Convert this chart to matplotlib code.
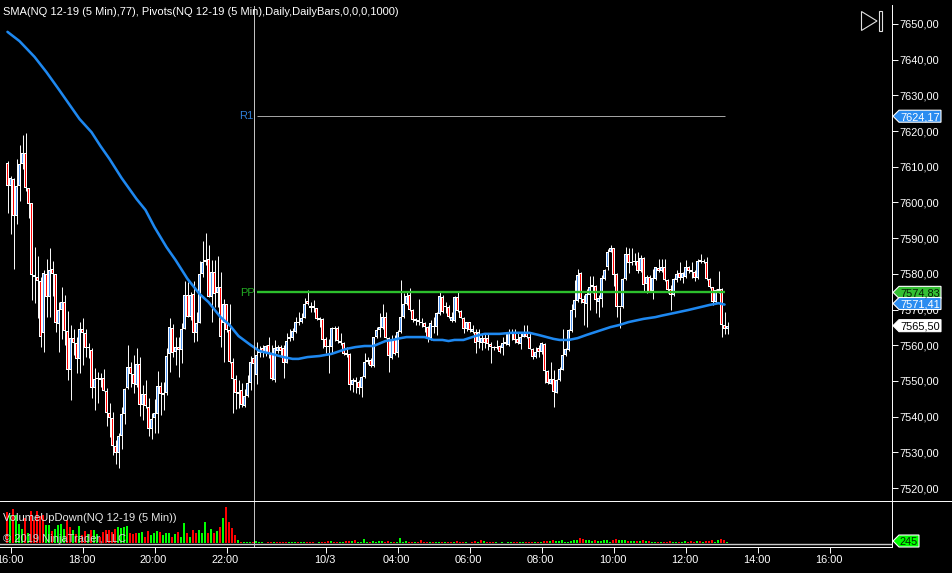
import matplotlib
matplotlib.use("Agg")
import matplotlib.pyplot as plt
import numpy as np
from matplotlib.lines import Line2D
from matplotlib.patches import Polygon
from matplotlib.transforms import Affine2D, IdentityTransform, blended_transform_factory

OPEN = [
7611.2,7604.7,7606.5,7596.3,7604.7,7610.8,7614.0,7604.0,7599.8,7579.8,
7579.2,7577.9,7563.4,7580.1,7573.4,7581.3,7580.1,7566.0,7569.9,7572.0,
7564.0,7553.1,7562.0,7560.6,7556.1,7564.5,7563.4,7559.3,7558.7,7548.0,
7550.5,7550.8,7550.8,7547.3,7540.9,7539.6,7531.9,7529.9,7534.6,7540.8,
7548.0,7553.8,7552.0,7548.9,7554.8,7543.2,7546.3,7542.8,7536.5,7539.6,
7540.8,7548.7,7546.1,7546.7,7557.6,7564.8,7558.2,7559.6,7558.7,7564.5,
7574.0,7568.0,7574.3,7563.4,7566.2,7580.0,7583.4,7584.1,7573.4,7580.4,
7574.7,7576.2,7566.2,7571.6,7564.3,7555.4,7550.5,7546.6,7547.5,7543.0,
7545.8,7549.5,7556.4,7551.6,7557.8,7559.2,7557.8,7560.1,7557.8,7550.3,
7558.4,7559.4,7559.2,7555.0,7561.9,7562.0,7563.8,7566.6,7566.4,7567.7,
7572.4,7571.0,7570.4,7570.4,7567.6,7567.4,7561.7,7559.4,7559.4,7564.5,
7564.8,7561.2,7560.7,7557.4,7557.6,7548.9,7550.3,7549.6,7548.0,7551.0,
7555.3,7555.9,7554.2,7562.2,7564.3,7564.8,7568.0,7562.0,7556.4,7561.7,
7557.8,7563.8,7568.0,7571.5,7574.1,7569.9,7566.9,7567.1,7566.6,7566.2,
7565.2,7562.0,7565.2,7565.2,7568.7,7573.6,7570.6,7570.8,7566.9,7566.9,
7573.4,7569.7,7567.7,7564.5,7566.4,7563.7,7563.6,7561.0,7560.6,7562.1,
7562.1,7560.4,7559.2,7559.2,7559.8,7559.2,7560.7,7560.0,7563.2,7563.4,
7561.9,7560.4,7562.4,7563.4,7562.4,7559.0,7556.8,7559.2,7558.2,7560.4,
7552.7,7549.2,7550.5,7546.7,7550.3,7553.1,7557.3,7558.7,7564.0,7569.9,
7572.4,7580.2,7573.0,7571.6,7574.1,7576.2,7576.6,7572.2,7572.9,7578.6,
7582.0,7586.2,7587.2,7580.0,7570.8,7570.6,7578.5,7585.6,7583.0,7583.2,
7583.6,7580.9,7584.4,7577.2,7579.2,7575.3,7578.6,7581.6,7580.9,7582.0,
7578.3,7575.7,7574.0,7578.3,7580.2,7578.8,7579.2,7582.0,7580.6,7580.6,
7578.8,7583.9,7583.4,7583.2,7578.6,7576.2,7572.2,7575.3,7575.7,7565.7,
7564.5]
HIGH = [
7611.6,7607.4,7607.0,7612.1,7616.1,7618.9,7619.4,7604.2,7599.8,7587.4,
7585.0,7579.2,7581.0,7584.1,7587.2,7583.7,7580.1,7572.2,7576.2,7574.1,
7569.6,7565.7,7564.5,7562.4,7566.4,7567.6,7564.5,7560.6,7559.2,7553.6,
7552.6,7552.2,7553.3,7548.0,7543.8,7541.4,7533.5,7535.5,7542.6,7548.0,
7560.1,7555.4,7557.3,7559.2,7556.8,7548.9,7550.3,7545.2,7540.9,7544.9,
7552.9,7549.6,7549.8,7559.2,7567.6,7566.0,7562.2,7562.4,7566.2,7577.9,
7577.6,7575.0,7577.9,7569.4,7583.7,7589.2,7591.4,7588.1,7583.9,7583.9,
7585.0,7580.6,7573.1,7571.6,7571.5,7556.4,7551.7,7550.3,7549.4,7547.7,
7551.7,7557.0,7558.7,7561.0,7559.8,7560.1,7560.1,7562.4,7560.1,7561.5,
7560.1,7560.1,7560.1,7563.4,7564.5,7564.8,7568.0,7569.4,7569.0,7573.2,
7575.5,7572.2,7572.7,7570.5,7568.0,7567.6,7562.4,7561.7,7565.2,7565.5,
7565.5,7563.5,7561.0,7559.4,7557.8,7550.8,7551.0,7550.3,7551.4,7557.8,
7556.6,7556.4,7562.4,7565.0,7569.1,7571.6,7569.4,7562.4,7562.9,7562.9,
7564.3,7578.3,7574.6,7575.3,7576.0,7570.1,7567.6,7573.0,7567.6,7566.6,
7565.4,7567.1,7568.0,7569.4,7575.0,7574.1,7572.2,7571.3,7569.4,7573.8,
7575.0,7569.9,7568.0,7566.6,7566.6,7565.7,7564.5,7564.5,7563.4,7563.4,
7563.4,7561.0,7559.8,7561.5,7560.1,7562.4,7563.4,7564.5,7564.5,7564.5,
7563.8,7563.8,7565.7,7565.7,7563.5,7559.2,7559.6,7560.1,7561.0,7560.6,
7553.1,7555.4,7553.1,7550.7,7553.8,7564.6,7559.2,7564.5,7571.6,7578.3,
7581.3,7580.6,7574.1,7575.7,7579.4,7579.4,7576.9,7574.1,7579.7,7581.3,
7586.9,7588.1,7587.2,7580.2,7570.8,7578.8,7587.4,7587.2,7587.2,7585.8,
7586.0,7585.3,7584.6,7579.7,7579.7,7581.4,7582.0,7584.2,7584.2,7584.1,
7578.5,7576.9,7578.8,7581.1,7583.2,7580.6,7583.9,7582.2,7583.4,7581.1,
7584.1,7585.6,7584.1,7584.8,7578.8,7576.4,7575.7,7580.8,7576.0,7569.4,
7566.4]
LOW = [
7597.1,7591.2,7581.5,7594.0,7600.4,7609.4,7603.3,7595.7,7572.7,7571.9,
7567.6,7559.6,7558.2,7568.0,7568.0,7573.8,7563.8,7558.2,7561.7,7560.1,
7550.3,7544.7,7557.3,7552.2,7552.2,7554.5,7556.8,7556.4,7545.2,7541.9,
7543.8,7548.4,7547.3,7537.4,7534.2,7529.3,7526.7,7525.5,7531.0,7538.0,
7547.8,7548.2,7546.7,7548.4,7540.3,7539.1,7542.4,7534.6,7533.7,7535.3,
7535.5,7540.5,7541.9,7546.1,7552.6,7556.8,7554.5,7551.2,7555.0,7564.5,
7568.0,7567.1,7561.0,7561.3,7566.2,7579.2,7582.5,7573.6,7566.4,7570.8,
7570.8,7559.6,7555.4,7563.8,7555.0,7540.9,7542.1,7542.4,7542.8,7542.6,
7545.6,7547.5,7548.9,7549.2,7556.6,7556.8,7557.0,7556.4,7550.3,7549.8,
7557.8,7556.8,7550.9,7555.0,7561.3,7561.5,7563.4,7565.7,7566.2,7567.6,
7571.3,7569.4,7569.4,7567.1,7565.2,7559.2,7557.8,7552.3,7557.8,7561.3,
7560.6,7560.1,7557.3,7556.8,7547.5,7547.0,7546.7,7546.4,7545.6,7550.8,
7554.8,7553.8,7554.0,7562.0,7562.4,7564.5,7562.0,7552.6,7556.1,7557.3,
7556.6,7563.5,7567.6,7571.3,7569.7,7566.6,7565.7,7565.7,7565.2,7563.8,
7561.0,7561.5,7563.4,7562.9,7568.5,7569.1,7569.0,7567.7,7566.6,7566.6,
7569.4,7567.6,7563.5,7564.1,7563.8,7563.4,7557.8,7559.2,7558.7,7559.2,
7558.7,7555.1,7558.7,7558.9,7557.8,7557.3,7560.1,7559.8,7561.5,7560.6,
7560.4,7558.9,7562.2,7562.0,7558.9,7556.1,7556.5,7556.6,7557.6,7549.5,
7549.2,7549.1,7542.6,7546.5,7550.1,7553.1,7557.0,7558.5,7563.8,7567.8,
7572.2,7571.8,7565.7,7565.2,7569.9,7574.6,7569.1,7568.0,7570.6,7578.3,
7581.1,7586.0,7576.6,7567.8,7564.8,7570.4,7578.3,7580.2,7582.5,7582.5,
7580.2,7580.6,7575.0,7574.6,7574.8,7573.0,7578.3,7580.6,7580.6,7578.1,
7574.6,7569.9,7573.8,7577.8,7578.3,7577.4,7578.8,7580.3,7578.8,7578.1,
7578.5,7583.1,7583.0,7578.3,7576.0,7571.3,7571.9,7574.6,7562.4,7563.1,
7563.2]
CLOSE = [
7604.7,7606.8,7596.3,7604.7,7610.8,7614.0,7604.0,7599.5,7579.8,7579.2,
7578.1,7562.4,7580.3,7573.4,7581.1,7580.1,7566.2,7569.9,7572.2,7564.0,
7553.1,7562.0,7560.6,7556.1,7564.5,7563.4,7559.3,7559.2,7548.0,7550.6,
7550.6,7550.3,7547.3,7540.9,7539.6,7531.9,7529.9,7534.6,7540.8,7547.8,
7554.0,7552.0,7549.1,7554.9,7543.2,7546.3,7543.0,7536.5,7539.3,7540.9,
7548.6,7546.3,7546.7,7557.1,7565.0,7557.8,7559.6,7558.7,7564.5,7574.0,
7568.0,7574.1,7563.4,7566.2,7579.9,7583.4,7583.9,7573.6,7580.6,7574.5,
7576.2,7562.2,7571.6,7564.3,7555.4,7550.5,7546.6,7546.4,7543.3,7545.8,
7549.5,7555.4,7554.8,7557.3,7558.7,7557.8,7559.8,7557.8,7550.5,7559.2,
7559.4,7558.4,7555.0,7561.3,7562.4,7564.0,7566.4,7566.2,7567.7,7571.5,
7571.5,7570.5,7571.0,7567.4,7567.1,7561.5,7559.6,7559.6,7564.8,7564.8,
7561.2,7560.7,7557.6,7557.6,7548.9,7550.3,7549.8,7548.1,7551.2,7555.4,
7555.7,7554.2,7562.2,7564.3,7565.0,7568.0,7562.0,7557.1,7561.7,7557.6,
7563.8,7568.0,7571.5,7573.8,7569.9,7567.1,7567.1,7566.6,7566.2,7565.0,
7562.0,7566.2,7565.0,7569.0,7573.8,7569.4,7571.0,7567.8,7568.0,7573.4,
7569.7,7567.7,7564.5,7566.4,7564.3,7564.5,7560.7,7563.6,7562.1,7560.6,
7560.4,7559.4,7559.4,7559.4,7558.0,7560.7,7560.5,7563.4,7563.5,7561.5,
7560.6,7562.2,7563.4,7562.2,7559.0,7556.6,7558.2,7558.0,7560.7,7552.7,
7549.3,7550.5,7547.0,7550.3,7553.3,7557.3,7558.9,7564.3,7569.9,7572.7,
7579.7,7572.9,7571.8,7574.3,7576.2,7576.9,7572.7,7573.2,7578.8,7581.1,
7586.0,7587.2,7579.7,7570.8,7570.6,7578.5,7585.6,7583.0,7583.4,7583.6,
7580.9,7584.4,7576.9,7579.2,7575.0,7578.8,7581.8,7580.9,7581.8,7578.3,
7575.5,7574.0,7578.5,7580.0,7578.9,7580.2,7582.0,7580.9,7580.9,7578.8,
7583.7,7583.4,7583.2,7578.6,7576.2,7572.2,7575.5,7575.7,7565.7,7564.5,
7565.5]

SMA_BARS = [0,4,9,13,17,21,24,28,31,34,38,43,46,49,53,56,60,64,67,71,74,77,81,84,88,92,95,97,
            100,104,108,113,116,119,122,126,129,131,133,139,142,145,147,149,152,156,159,164,168,
            174,177,182,184,187,190,193,197,201,204,207,212,216,218,222,227,231,234,237,239]
SMA_VALUES = [7647.8,7645.2,7640.8,7636.5,7631.8,7627.0,7623.4,7619.7,7615.8,7612.2,7606.9,7601.0,
              7597.9,7593.1,7587.5,7583.9,7578.6,7574.4,7572.1,7567.9,7565.7,7562.6,7560.1,7558.4,
              7557.6,7556.7,7556.2,7556.2,7556.7,7557.0,7557.6,7559.0,7559.5,7559.8,7559.8,7561.2,
              7561.6,7562.0,7562.3,7562.3,7561.5,7561.5,7561.2,7561.5,7561.5,7562.6,7563.2,7563.2,
              7563.5,7563.5,7562.9,7561.8,7561.5,7561.5,7562.0,7562.9,7564.0,7565.1,7565.7,7566.5,
              7567.4,7567.9,7568.3,7569.0,7569.9,7570.7,7571.3,7571.8,7571.41]

VOLUME = [
7750,7000,8500,7000,4750,3500,6250,2500,8000,5750,
8000,6750,7000,4500,4500,3000,3500,4500,4750,3500,
5750,4000,3250,2250,4250,2000,3000,2250,3250,3250,
2250,1500,2750,3250,3250,2750,3500,4000,3750,4000,
4250,2500,2250,2500,2500,2750,1500,3000,2000,2500,
3000,2750,2000,2500,2500,1500,2250,2750,1500,5000,
2500,1500,3250,2500,3250,2500,5250,2500,3500,2500,
3000,4000,6250,9000,5250,3750,2000,750,250,250,
250,250,250,500,250,250,0,250,250,250,
250,250,250,250,250,250,250,250,250,250,
250,250,250,0,250,250,250,500,500,250,
250,250,250,500,500,500,750,250,250,1000,
250,250,500,250,500,500,250,500,250,250,
250,1250,250,500,250,250,250,250,750,250,
250,250,250,250,250,250,250,250,250,250,
500,250,250,250,0,250,500,250,750,500,
250,250,250,250,0,250,0,250,250,250,
250,250,250,250,250,250,250,250,250,500,
500,500,750,500,500,750,250,250,500,750,
750,1250,1000,750,750,500,750,500,500,750,
750,250,750,1000,750,750,750,500,500,500,
500,500,750,500,500,250,250,250,250,250,
250,500,250,250,250,250,500,250,500,250,
500,500,250,500,500,750,250,750,1000,750,
245]
VOLUME_SIDE = ("rgrgggrgrr" "rrrggrgggg" "rrgrgrrgrg" "grrrrrrggg" "grrrggrrgg"
               "grgggrgrgg" "rgrrgggrgr" "grgrrrrgrg" "ggrggggrrg" "rrrrgggrgg"
               "rrrrgrrrgr" "rggrrgrggg" "grggggrrgr" "ggggrrgrrr" "rgrggrgrrg"
               "rrrggrrgrg" "rrrggggggr" "rggrrrgrgr" "rgrggggggg" "grrgggrggg"
               "ggrrgggrgg" "rgrgrggrgr" "rrggrggrrr" "grgrrrggrr" "g")

TIME_TICK_BARS = [1, 25, 49, 73, 106, 130, 154, 178, 202, 226, 250, 274]
TIME_TICK_LABELS = ["16:00", "18:00", "20:00", "22:00", "10/3", "04:00", "06:00",
                    "08:00", "10:00", "12:00", "14:00", "16:00"]
PRICE_TICKS = [7520, 7530, 7540, 7550, 7560, 7570, 7580, 7590, 7600, 7610, 7620, 7630, 7640, 7650]
PIVOT_R1 = 7624.17
PIVOT_PP = 7574.83
LAST_PRICE = 7565.50
LAST_SMA = 7571.41
LAST_VOLUME = 245
CURSOR_BAR = 82
PIVOT_START_BAR = 83
PIVOT_END_BAR = 239

plt.rcParams["font.family"] = ["Liberation Sans", "DejaVu Sans"]
W, H = 952, 573
BLUE_BODY = "#4f94f0"
SMA_BLUE = "#1e88f0"
FS = 7.9
THIN = 0.7

fig = plt.figure(figsize=(W / 100, H / 100), dpi=100, facecolor="black")


def rect(left, top, right, bottom):
    return [left / W, 1 - bottom / H, (right - left) / W, (bottom - top) / H]


PANE_R = 891.5
PANE_SPLIT = 500.5
PANE_BOTTOM = 546.5
ax = fig.add_axes(rect(0, 0, PANE_R, PANE_SPLIT), facecolor="black")
vax = fig.add_axes(rect(0, PANE_SPLIT, PANE_R, PANE_BOTTOM), facecolor="none")

PX_PER_BAR = 3.0
for a in (ax, vax):
    a.set_xlim(-7.5 / PX_PER_BAR, (PANE_R - 7.5) / PX_PER_BAR)

PX_PER_POINT = 3.57
ax.set_ylim(7650 - (PANE_SPLIT - 24) / PX_PER_POINT, 7650 + 24 / PX_PER_POINT)
PX_PER_VOL = 1 / 250
ZERO_Y = 543.0
vax.set_ylim((ZERO_Y - PANE_BOTTOM) / PX_PER_VOL, (ZERO_Y - PANE_SPLIT) / PX_PER_VOL)

bars = np.arange(len(CLOSE))
o, h, l, c = map(np.array, (OPEN, HIGH, LOW, CLOSE))

# candles
ax.vlines(bars, l, h, color="white", lw=THIN, zorder=2)
top = np.maximum(o, c)
bot = np.minimum(o, c)
one_px = 1 / PX_PER_POINT
outer_h = np.maximum(top - bot, 1.6 * one_px)
ax.bar(bars, outer_h, bottom=bot, width=1.0, color="white", lw=0, zorder=3)
inner_h = np.maximum(outer_h - 2 * one_px, 0)
inner_col = ["#ff0000" if cc < oo else BLUE_BODY for oo, cc in zip(o, c)]
ax.bar(bars, inner_h, bottom=bot + one_px, width=1 / 3, color=inner_col, lw=0, zorder=4)

# indicators
ax.hlines(PIVOT_R1, PIVOT_START_BAR, PIVOT_END_BAR, color="#a8a8a8", lw=THIN, zorder=5)
ax.hlines(PIVOT_PP, PIVOT_START_BAR, PIVOT_END_BAR, color="#2cc02c", lw=1.7, zorder=5)
ax.plot(SMA_BARS, SMA_VALUES, color=SMA_BLUE, lw=1.85, zorder=6, solid_capstyle="round",
        solid_joinstyle="round")

# volume
vol = np.array(VOLUME)
vcol = ["#ff0000" if s == "r" else "#00ff00" for s in VOLUME_SIDE]
vax.bar(bars - 1 / 6, vol, width=2 / 3, color=vcol, lw=0, zorder=3)
vax.axhline(-1 / PX_PER_VOL, color="#c8c8c8", lw=1.0, zorder=4)

# cursor line
ax.axvline(CURSOR_BAR, ymax=(PANE_SPLIT - 6) / PANE_SPLIT, color="#c8c8c8", lw=THIN, zorder=7)
vax.axvline(CURSOR_BAR, color="#c8c8c8", lw=THIN, zorder=5)

# axes furniture
for a in (ax, vax):
    for s in a.spines.values():
        s.set_visible(False)
    a.tick_params(colors="white", labelcolor="white")

ax.spines["right"].set_visible(True)
ax.spines["right"].set_color("white")
ax.spines["right"].set_linewidth(THIN)
ax.spines["right"].set_bounds(ax.get_ylim()[0], 7650 + (24 - 5) / PX_PER_POINT)
ax.yaxis.tick_right()
ax.set_yticks(PRICE_TICKS)
ax.set_yticklabels([f"{p:.2f}".replace(".", ",") for p in PRICE_TICKS], fontsize=FS)
ax.tick_params(axis="y", length=4.3, width=THIN, pad=1.4)
ax.set_xticks([])

vax.spines["right"].set_visible(True)
vax.spines["right"].set_color("white")
vax.spines["right"].set_linewidth(THIN)
vax.spines["bottom"].set_visible(True)
vax.spines["bottom"].set_color("white")
vax.spines["bottom"].set_linewidth(THIN)
vax.set_yticks([])
vax.set_xticks(TIME_TICK_BARS)
vax.set_xticklabels(TIME_TICK_LABELS, fontsize=FS)
vax.tick_params(axis="x", length=4.3, width=THIN, pad=1.6)
for lab in vax.get_xticklabels():
    lab.set_transform(lab.get_transform() + Affine2D().translate(-1, 0))

# texts and pieces placed in pixels
px = IdentityTransform()


def ptext(x, y, s, **kw):
    kw.setdefault("color", "white")
    kw.setdefault("fontsize", FS)
    kw.setdefault("va", "center")
    fig.text(x / W, 1 - y / H, s, **kw)


ptext(3, 12, "SMA(NQ 12-19 (5 Min),77), Pivots(NQ 12-19 (5 Min),Daily,DailyBars,0,0,0,1000)",
      fontsize=8.0, zorder=10)
ptext(3, 518, "VolumeUpDown(NQ 12-19 (5 Min))", color="#e8e8e8", fontsize=8.0, zorder=10)
ptext(3, 539, "\u00a9 2019 NinjaTrader, LLC", color="#d0d0d0", fontsize=8.0, zorder=10)
ptext(239, 116, "R1", color="#2f7fd8", fontsize=8.0)
ptext(240, 293, "PP", color="#22a822", fontsize=8.0)

fig.add_artist(Line2D([0, 1], [1 - PANE_SPLIT / H] * 2, color="white", lw=THIN,
                      transform=fig.transFigure))

# next-bar icon
fig.add_artist(Polygon([[861.5 / W, 1 - 11.5 / H], [877 / W, 1 - 21 / H], [861.5 / W, 1 - 30.5 / H]],
                       closed=True, fill=False, ec="#e0e0e0", lw=0.8, transform=fig.transFigure))
fig.add_artist(Polygon([[878.5 / W, 1 - 10.5 / H], [881.5 / W, 1 - 10.5 / H],
                        [881.5 / W, 1 - 30.5 / H], [878.5 / W, 1 - 30.5 / H]],
                       closed=True, fill=False, ec="#e0e0e0", lw=0.8, transform=fig.transFigure))


def tag(axis, value, face, txt, tcol, right=941, ppu=PX_PER_POINT, text_x=900, pos=None):
    tr = blended_transform_factory(px, axis.transData)
    pos = value if pos is None else pos
    half = 6.0 / ppu
    verts = [(893, pos), (899, pos + half), (right, pos + half),
             (right, pos - half), (899, pos - half)]
    axis.add_patch(Polygon(verts, closed=True, fc=face, ec="white", lw=0.8, transform=tr,
                           clip_on=False, zorder=20))
    axis.text(text_x, pos, txt, transform=tr, color=tcol, fontsize=FS, va="center_baseline",
              ha="left", clip_on=False, zorder=21)


tag(ax, PIVOT_R1, "#2a8cf0", f"{PIVOT_R1:.2f}".replace(".", ","), "white")
tag(ax, LAST_PRICE, "white", f"{LAST_PRICE:.2f}".replace(".", ","), "black")
tag(ax, PIVOT_PP, "#34c034", f"{PIVOT_PP:.2f}".replace(".", ","), "#062006")
tag(ax, LAST_SMA, "#2a8cf0", f"{LAST_SMA:.2f}".replace(".", ","), "white", pos=LAST_SMA + 0.3)
tag(vax, LAST_VOLUME, "#00ff00", str(LAST_VOLUME), "#062006", right=919,
    ppu=PX_PER_VOL, text_x=900, pos=LAST_VOLUME + 250)

fig.savefig("out.png", dpi=100, facecolor="black")
